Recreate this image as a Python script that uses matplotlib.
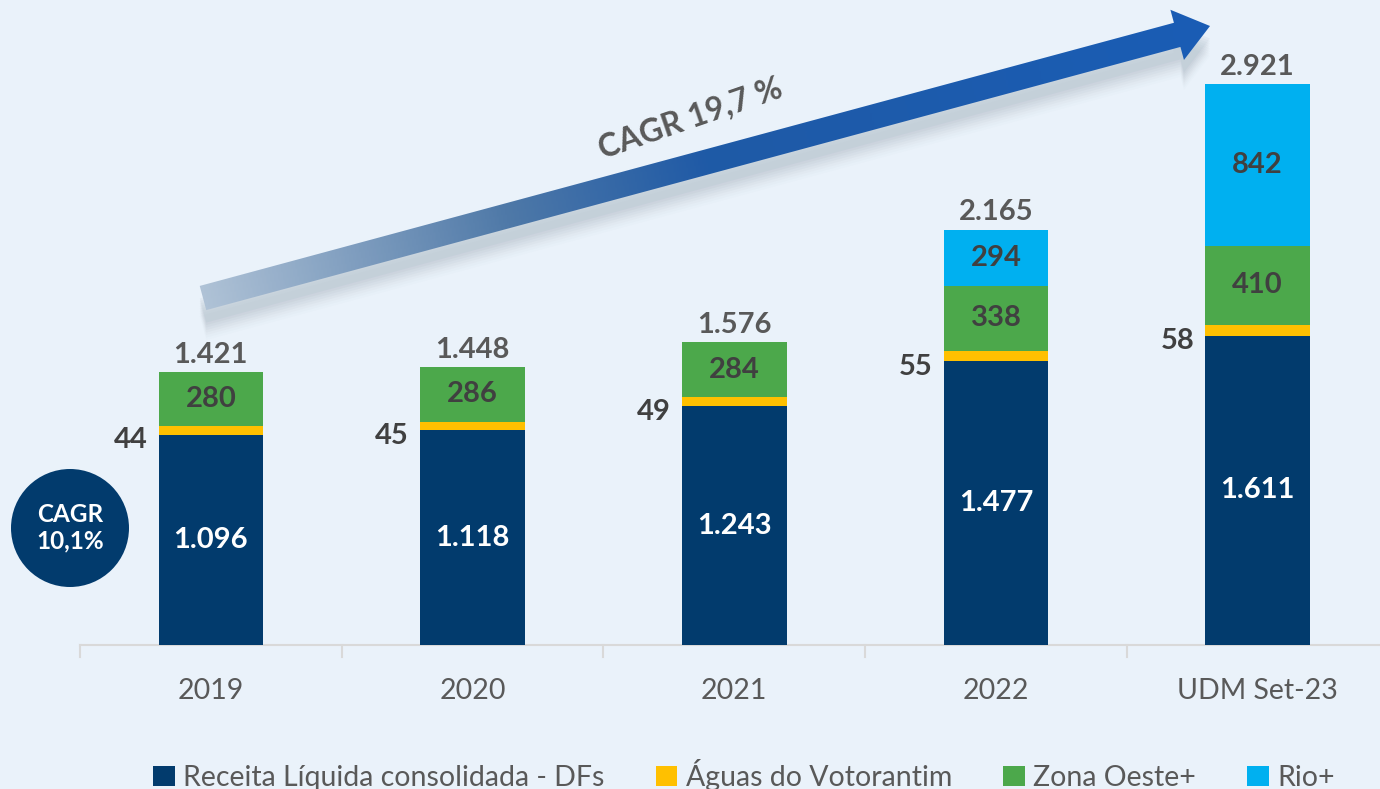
import numpy as np
import matplotlib
matplotlib.use("Agg")
import matplotlib.pyplot as plt
import matplotlib.transforms as mtransforms
from matplotlib.patches import Patch, Polygon, Circle
from matplotlib.colors import LinearSegmentedColormap

plt.rcParams['font.family'] = ['Lato', 'DejaVu Sans']

# dados (R$ milhões)
categorias = ["2019", "2020", "2021", "2022", "UDM Set-23"]
receita_dfs = [1096, 1118, 1243, 1477, 1611]
aguas_votorantim = [44, 45, 49, 55, 58]
zona_oeste = [280, 286, 284, 338, 410]
rio_mais = [0, 0, 0, 294, 842]
totais = [1421, 1448, 1576, 2165, 2921]

series_nomes = ["Receita Líquida consolidada - DFs", "Águas do Votorantim",
                "Zona Oeste+", "Rio+"]
cores = ["#023B6D", "#FFC000", "#4CA84B", "#00B0F0"]

BG = "#EAF2FA"
CINZA = "#595959"
CINZA_ESC = "#404040"


def fmt(v):
    return f"{v:,}".replace(",", ".")


W, H = 1380, 789
fig = plt.figure(figsize=(W / 100, H / 100), dpi=100, facecolor=BG)

# eixo principal das barras
ax = fig.add_axes([80 / W, (H - 645) / H, 1308.5 / W, 645 / H])
ax.set_facecolor(BG)
ax.patch.set_alpha(0)
x = np.arange(len(categorias))
largura = 0.40

ax.bar(x, receita_dfs, largura, color=cores[0], zorder=3)
base = np.array(receita_dfs)
ax.bar(x, aguas_votorantim, largura, bottom=base, color=cores[1], zorder=3)
base = base + np.array(aguas_votorantim)
ax.bar(x, zona_oeste, largura, bottom=base, color=cores[2], zorder=3)
base = base + np.array(zona_oeste)
ax.bar(x, rio_mais, largura, bottom=base, color=cores[3], zorder=3)

ax.set_xlim(-0.5, len(categorias) - 0.5)
ax.set_ylim(0, 3360)
ax.set_yticks([])
for s in ["top", "right", "left"]:
    ax.spines[s].set_visible(False)
ax.spines["bottom"].set_color("#D9D9D9")
ax.spines["bottom"].set_linewidth(1.5)
ax.set_xticks(x)
ax.set_xticklabels(categorias, fontsize=20.5, color=CINZA)
ax.tick_params(axis="x", length=0, pad=24)
# marcas entre categorias
for xb in np.arange(-0.5, len(categorias), 1.0):
    ax.plot([xb, xb], [0, -60], color="#D9D9D9", lw=1.5, clip_on=False)

# rótulos de valor
rot = dict(fontsize=21, fontweight="bold", zorder=4)
esq = mtransforms.offset_copy(ax.transData, fig=fig, x=-8, y=-4, units="points")
cima = mtransforms.offset_copy(ax.transData, fig=fig, x=0, y=3, units="points")
for i in range(len(categorias)):
    ax.text(x[i], receita_dfs[i] / 2, fmt(receita_dfs[i]), ha="center", va="center",
            color="white", **rot)
    ax.text(x[i] - largura / 2, receita_dfs[i], str(aguas_votorantim[i]),
            transform=esq, ha="right", va="center", color=CINZA_ESC, **rot)
    y_zo = receita_dfs[i] + aguas_votorantim[i] + zona_oeste[i] / 2
    ax.text(x[i], y_zo, str(zona_oeste[i]), ha="center", va="center",
            color=CINZA_ESC, **rot)
    if rio_mais[i] > 0:
        y_rio = receita_dfs[i] + aguas_votorantim[i] + zona_oeste[i] + rio_mais[i] / 2
        ax.text(x[i], y_rio, str(rio_mais[i]), ha="center", va="center",
                color=CINZA_ESC, **rot)
    ax.text(x[i], totais[i], fmt(totais[i]), transform=cima, ha="center",
            va="bottom", color=CINZA, **rot)

# camada de anotações em pixels
ov = fig.add_axes([0, 0, 1, 1], zorder=5)
ov.set_xlim(0, W)
ov.set_ylim(H, 0)
ov.axis("off")
ov.patch.set_alpha(0)

# seta CAGR com gradiente
p0 = np.array([203.0, 298.0])
p1 = np.array([1210.0, 26.0])
d = p1 - p0
L = np.hypot(*d)
u = d / L
n = np.array([-u[1], u[0]])
hw, head_len, head_hw = 12.5, 34.0, 26.0
hb = p1 - u * head_len
pts = np.array([p0 + n * hw, hb + n * hw, hb + n * head_hw, p1,
                hb - n * head_hw, hb - n * hw, p0 - n * hw])

# sombra
for k, a in zip(range(1, 9), np.linspace(0.07, 0.02, 8)):
    off = np.array([0, 10 + 2.5 * k])
    sh = Polygon(pts + off, closed=True, fc="#7F8C99", ec="none", alpha=a, zorder=1)
    ov.add_patch(sh)

cmap = LinearSegmentedColormap.from_list(
    "seta", [(0, "#AFC2D6"), (0.3, "#4F79A8"), (0.5, "#1F5AA6"), (1, "#1A5DB5")])
gx, gy = np.meshgrid(np.linspace(0, W, 700), np.linspace(0, H, 400))
t = ((gx - p0[0]) * u[0] + (gy - p0[1]) * u[1]) / L
img = ov.imshow(np.clip(t, 0, 1), extent=(0, W, H, 0), origin="upper",
                cmap=cmap, vmin=0, vmax=1, aspect="auto", zorder=2)
clip = Polygon(pts, closed=True, fc="none", ec="none", transform=ov.transData)
ov.add_patch(clip)
img.set_clip_path(clip)
ov.set_xlim(0, W)
ov.set_ylim(H, 0)

ov.text(690, 118, "CAGR 19,7 %", rotation=19, ha="center", va="center",
        fontsize=23, fontweight="bold", color=CINZA, zorder=3)

# círculo CAGR
ov.add_patch(Circle((70, 528), 59, fc="#023B6D", ec="none", zorder=3))
ov.text(70, 528, "CAGR\n10,1%", ha="center", va="center", fontsize=17.5,
        fontweight="bold", color="white", linespacing=1.2, zorder=4)

# legenda
handles = [Patch(facecolor=c, edgecolor="none") for c in cores]
fig.legend(handles, series_nomes, loc="center", ncol=4,
           bbox_to_anchor=(744 / W, (H - 775) / H), frameon=False,
           fontsize=20.5, labelcolor=CINZA, handlelength=0.75, handleheight=0.75,
           handletextpad=0.3, columnspacing=1.8)

fig.savefig("out.png", dpi=100, facecolor=BG)
